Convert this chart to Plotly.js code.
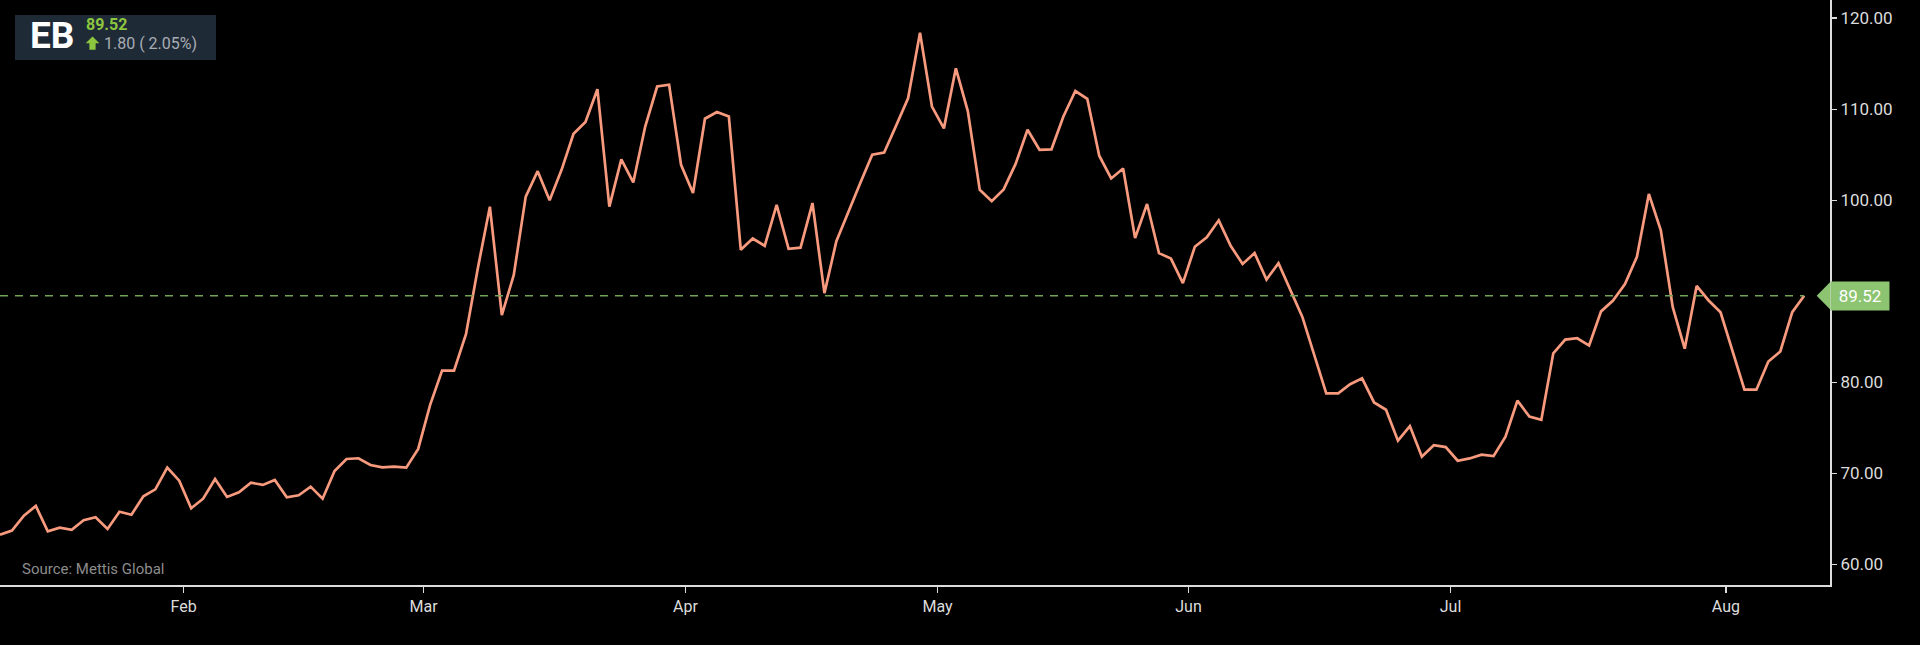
<!DOCTYPE html>
<html>
<head>
<meta charset="utf-8">
<script src="https://cdn.plot.ly/plotly-3.0.1.min.js"></script>
<style>
  html, body { margin: 0; padding: 0; background: #000; }
  #chart { width: 1920px; height: 645px; }
</style>
</head>
<body>
<div id="chart"></div>
<script>
// closing prices, one per trading session (oldest first)
const CLOSES = [
  63.27, 63.72, 65.37, 66.43, 63.65, 64.04, 63.82, 64.86, 65.19, 63.90,
  65.80, 65.47, 67.49, 68.26, 70.64, 69.21, 66.18, 67.23, 69.40, 67.42,
  67.93, 68.99, 68.74, 69.29, 67.38, 67.60, 68.55, 67.23, 70.27, 71.59,
  71.67, 70.93, 70.68, 70.75, 70.64, 72.69, 77.53, 81.30, 81.30, 85.30,
  92.60, 99.30, 87.40, 91.80, 100.40, 103.20, 100.00, 103.35, 107.30, 108.60,
  112.20, 99.30, 104.50, 101.96, 108.10, 112.50, 112.70, 103.90, 100.80, 108.96,
  109.70, 109.20, 94.56, 95.80, 95.00, 99.50, 94.67, 94.80, 99.70, 89.80,
  95.50, 98.80, 101.90, 105.00, 105.25, 108.20, 111.20, 118.40, 110.30, 107.90,
  114.50, 109.80, 101.15, 99.90, 101.20, 104.00, 107.75, 105.55, 105.60, 109.20,
  112.00, 111.15, 104.90, 102.40, 103.50, 95.85, 99.60, 94.20, 93.60, 90.90,
  94.90, 95.95, 97.80, 95.00, 93.00, 94.20, 91.30, 93.10, 90.20, 87.20,
  83.00, 78.80, 78.80, 79.80, 80.45, 77.80, 77.00, 73.60, 75.20, 71.85,
  73.10, 72.90, 71.40, 71.65, 72.07, 71.90, 74.05, 78.00, 76.25, 75.90,
  83.20, 84.70, 84.85, 84.05, 87.80, 89.00, 90.80, 93.80, 100.70, 96.70,
  88.26, 83.70, 90.60, 89.00, 87.70, 83.50, 79.20, 79.20, 82.30, 83.40,
  87.72, 89.52
];

// month labels and where each month starts, in session units
const MONTH_LABELS = ['Feb', 'Mar', 'Apr', 'May', 'Jun', 'Jul', 'Aug'];
const MONTH_STARTS = [15.37, 35.45, 57.37, 78.47, 99.47, 121.4, 144.45];

const PRICE_TICKS = [60, 70, 80, 100, 110, 120];

const SYMBOL = 'EB';
const LAST_PRICE = 89.52;
const CHANGE = 1.80;
const CHANGE_PCT = 2.05;
const SOURCE = 'Source: Mettis Global';

const Y_RANGE = [57.75, 122.0];
const X_RANGE = [0, 153.16];

const FIG_W = 1920;
const FIG_H = 645;
const MARGIN = { l: 0, r: 90, t: 0, b: 60 };
const PLOT_W = FIG_W - MARGIN.l - MARGIN.r;
const PLOT_H = FIG_H - MARGIN.t - MARGIN.b;

// pixel offsets inside the plot area -> paper coords
const px = (x) => x / PLOT_W;
const py = (y) => 1 - y / PLOT_H;

const LINE_COLOR = '#f89a7e';
const AXIS_COLOR = '#dcdcdc';
const GREEN = '#8cc63e';
const TAG_GREEN = '#8cc472';

const sessions = CLOSES.map((_, i) => i);
const lastIdx = CLOSES.length - 1;
const lastPaperY = (LAST_PRICE - Y_RANGE[0]) / (Y_RANGE[1] - Y_RANGE[0]);
const tagHalf = 13.6 / PLOT_H;

const trace = {
  type: 'scatter',
  mode: 'lines',
  x: sessions,
  y: CLOSES,
  line: { color: LINE_COLOR, width: 2.7 },
  hoverinfo: 'skip',
};

const shapes = [
  // last-price guide
  {
    type: 'line', xref: 'x', yref: 'y',
    x0: 0, x1: lastIdx, y0: LAST_PRICE, y1: LAST_PRICE,
    line: { color: '#72a457', width: 1.5, dash: '8px,7px' },
  },
  // pointer of the price tag
  {
    type: 'path', xref: 'paper', yref: 'paper',
    path: `M ${px(1816.7)},${lastPaperY} L 1,${lastPaperY + tagHalf} L 1,${lastPaperY - tagHalf} Z`,
    fillcolor: TAG_GREEN, line: { width: 0 },
  },
  // ticker badge
  {
    type: 'rect', xref: 'paper', yref: 'paper',
    x0: px(15), x1: px(216), y0: py(60), y1: py(15),
    fillcolor: '#1f2a37', line: { width: 0 }, layer: 'above',
  },
  // up arrow
  {
    type: 'path', xref: 'paper', yref: 'paper',
    path: `M ${px(92.5)},${py(36.5)} L ${px(99.3)},${py(43.3)} L ${px(95.6)},${py(43.3)} `
      + `L ${px(95.6)},${py(49.8)} L ${px(89.4)},${py(49.8)} L ${px(89.4)},${py(43.3)} `
      + `L ${px(85.7)},${py(43.3)} Z`,
    fillcolor: GREEN, line: { width: 0 }, layer: 'above',
  },
];

const annotations = [
  {
    xref: 'paper', yref: 'paper', x: 1, y: lastPaperY,
    xanchor: 'left', yanchor: 'middle',
    text: LAST_PRICE.toFixed(2), showarrow: false,
    bgcolor: TAG_GREEN, width: 56, height: 26, align: 'center',
    font: { family: 'Roboto, sans-serif', size: 17, color: '#ffffff' },
  },
  {
    xref: 'paper', yref: 'paper', x: px(28), y: py(35.5),
    xanchor: 'left', yanchor: 'middle', showarrow: false,
    text: `<b>${SYMBOL}</b>`,
    font: { family: 'Roboto, sans-serif', size: 37, color: '#ffffff' },
  },
  {
    xref: 'paper', yref: 'paper', x: px(83.5), y: py(24.5),
    xanchor: 'left', yanchor: 'middle', showarrow: false,
    text: `<b>${LAST_PRICE.toFixed(2)}</b>`,
    font: { family: 'Roboto, sans-serif', size: 16, color: GREEN },
  },
  {
    xref: 'paper', yref: 'paper', x: px(101.5), y: py(43.5),
    xanchor: 'left', yanchor: 'middle', showarrow: false,
    text: `${CHANGE.toFixed(2)} ( ${CHANGE_PCT.toFixed(2)}%)`,
    font: { family: 'Roboto, sans-serif', size: 16, color: '#a8adb3' },
  },
  {
    xref: 'paper', yref: 'paper', x: px(20), y: py(569),
    xanchor: 'left', yanchor: 'middle', showarrow: false,
    text: SOURCE,
    font: { family: 'Roboto, sans-serif', size: 15, color: '#8c8c8c' },
  },
];

const layout = {
  width: FIG_W,
  height: FIG_H,
  margin: MARGIN,
  paper_bgcolor: '#000000',
  plot_bgcolor: '#000000',
  showlegend: false,
  font: { family: 'Roboto, sans-serif', color: AXIS_COLOR },
  xaxis: {
    type: 'linear',
    range: X_RANGE,
    tickmode: 'array',
    tickvals: MONTH_STARTS,
    ticktext: MONTH_LABELS,
    ticks: 'outside',
    ticklen: 6,
    tickwidth: 1.5,
    tickcolor: AXIS_COLOR,
    showline: true,
    linecolor: AXIS_COLOR,
    linewidth: 2,
    showgrid: false,
    zeroline: false,
    tickfont: { size: 16, color: AXIS_COLOR },
  },
  yaxis: {
    side: 'right',
    range: Y_RANGE,
    tickmode: 'array',
    tickvals: PRICE_TICKS,
    tickformat: '.2f',
    ticks: 'outside',
    ticklen: 5,
    tickwidth: 1.5,
    tickcolor: AXIS_COLOR,
    showline: true,
    linecolor: AXIS_COLOR,
    linewidth: 2,
    showgrid: false,
    zeroline: false,
    tickfont: { size: 17, color: AXIS_COLOR },
  },
  shapes,
  annotations,
};

Plotly.newPlot('chart', [trace], layout, { displayModeBar: false, staticPlot: true });
</script>
</body>
</html>
